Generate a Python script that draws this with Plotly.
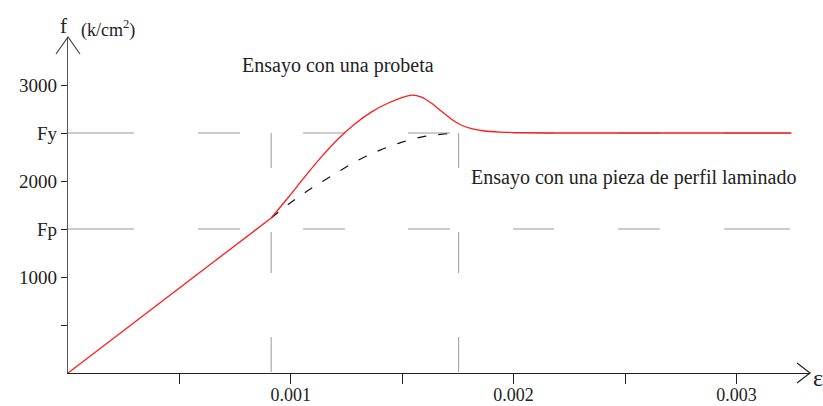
import plotly.graph_objects as go

# ---- data (strain in units of 1, stress in k/cm2) ----
eps_lin = [0.0, 0.000912]
f_lin = [0, 1615]

eps_probeta = [0.0009120, 0.0009865, 0.0010615, 0.0011364, 0.0012110, 0.0012859, 0.0013609,
               0.0014354, 0.0015417, 0.0015866, 0.0016315, 0.0016764, 0.0017213, 0.0017662,
               0.0018111, 0.0018694, 0.0019367, 0.0020265, 0.0021611, 0.0032473]
f_probeta = [1615, 1823, 2040, 2248, 2435, 2592, 2717,
             2810, 2894, 2873, 2810, 2727, 2644, 2581,
             2545, 2521, 2510, 2503, 2500, 2500]

eps_perfil = [0.000912, 0.001017, 0.001106, 0.001204, 0.001301, 0.001398, 0.001496,
              0.001600, 0.001705, 0.001753]
f_perfil = [1615, 1805, 1944, 2083, 2215, 2319, 2402, 2465, 2493, 2500]

Fp, Fy = 1500, 2500
eps_p, eps_y = 0.000912, 0.001753
eps_end = 0.003247

x_tickvals = [0.001, 0.002, 0.003]
x_ticktext = ["0.001", "0.002", "0.003"]
x_minor_ticks = [0.0005, 0.0015, 0.0025]
y_tickvals = [1000, 1500, 2000, 2500, 3000]
y_ticktext = ["1000", "Fp", "2000", "Fy", "3000"]
y_minor_ticks = [500]

X_MAX, Y_MAX = 0.0033303, 3500

FONT = "Liberation Serif"
GRAY = "#9a9a9a"

fig = go.Figure()

fig.add_trace(go.Scatter(x=eps_perfil, y=f_perfil, mode="lines",
                         line=dict(color="#111111", width=1.2, dash="9px,12px", shape="spline"),
                         hoverinfo="skip", showlegend=False))
fig.add_trace(go.Scatter(x=eps_lin, y=f_lin, mode="lines",
                         line=dict(color="#ff1a1a", width=1.3),
                         hoverinfo="skip", showlegend=False))
fig.add_trace(go.Scatter(x=eps_probeta, y=f_probeta, mode="lines",
                         line=dict(color="#ff1a1a", width=1.3, shape="spline", smoothing=0.8),
                         hoverinfo="skip", showlegend=False))

h_dash = "66px,64px,42px,63px,42px,63px,42px,63px,41px,64px,42px,64px,66px"
v_dash = "35px,64px,41px,64px,35px"
shapes = []
for fv in (Fp, Fy):
    shapes.append(dict(type="line", xref="x", yref="y", x0=0, x1=eps_end, y0=fv, y1=fv,
                       line=dict(color=GRAY, width=1.2, dash=h_dash), layer="below"))
for ev in (eps_p, eps_y):
    shapes.append(dict(type="line", xref="x", yref="y", x0=ev, x1=ev, y0=Fy, y1=0,
                       line=dict(color="#aaaaaa", width=1.2, dash=v_dash), layer="below"))
# arrowheads (paper-referenced so they are not clipped)
shapes.append(dict(type="path", xref="paper", yref="paper", xsizemode="pixel", ysizemode="pixel",
                   xanchor=1, yanchor=0, path="M -13,10 L 0,0 L -13,-10",
                   line=dict(color="#222222", width=1.2)))
shapes.append(dict(type="path", xref="paper", yref="paper", xsizemode="pixel", ysizemode="pixel",
                   xanchor=0, yanchor=1, path="M -12,-17 L 0,0 L 12,-17",
                   line=dict(color="#444444", width=1.2)))

annotations = [
    dict(x=0.00077, y=3200, xref="x", yref="y", text="Ensayo con una probeta",
         showarrow=False, xanchor="left", yanchor="middle",
         font=dict(family=FONT, size=20, color="#222")),
    dict(x=0.00180, y=2035, xref="x", yref="y", text="Ensayo con una pieza de perfil laminado",
         showarrow=False, xanchor="left", yanchor="middle",
         font=dict(family=FONT, size=20, color="#222")),
    dict(x=-0.0067, y=1.032, xref="paper", yref="paper", text="f",
         showarrow=False, xanchor="center", yanchor="middle",
         font=dict(family=FONT, size=21, color="#222")),
    dict(x=0.0148, y=1.024, xref="paper", yref="paper", text="(k/cm<sup>2</sup>)",
         showarrow=False, xanchor="left", yanchor="middle",
         font=dict(family=FONT, size=18, color="#222")),
    dict(x=1.0, y=-0.014, xref="paper", yref="paper", text="ε",
         showarrow=False, xanchor="left", yanchor="middle", xshift=1,
         font=dict(family=FONT, size=24, color="#222")),
]

fig.update_layout(
    width=823, height=406,
    margin=dict(l=68, r=13, t=37, b=33),
    paper_bgcolor="white", plot_bgcolor="white",
    shapes=shapes, annotations=annotations,
    showlegend=False,
    xaxis=dict(range=[0, X_MAX], showgrid=False, zeroline=False, automargin=False,
               showline=True, linecolor="#222222", linewidth=1.3,
               ticks="outside", ticklen=10, tickwidth=1.3, tickcolor="#222222",
               tickvals=x_tickvals, ticktext=x_ticktext, ticklabelstandoff=-5,
               minor=dict(tickvals=x_minor_ticks, ticks="outside", ticklen=10,
                          tickwidth=1.3, tickcolor="#222222", showgrid=False),
               tickfont=dict(family=FONT, size=18, color="#222")),
    yaxis=dict(range=[0, Y_MAX], showgrid=False, zeroline=False, automargin=False,
               showline=True, linecolor="#555555", linewidth=1.3,
               ticks="outside", ticklen=6, tickwidth=1.3, tickcolor="#222222",
               tickvals=y_tickvals, ticktext=y_ticktext,
               minor=dict(tickvals=y_minor_ticks, ticks="outside", ticklen=6,
                          tickwidth=1.3, tickcolor="#222222", showgrid=False),
               tickfont=dict(family=FONT, size=19, color="#222")),
)

fig.write_html("out.html")
